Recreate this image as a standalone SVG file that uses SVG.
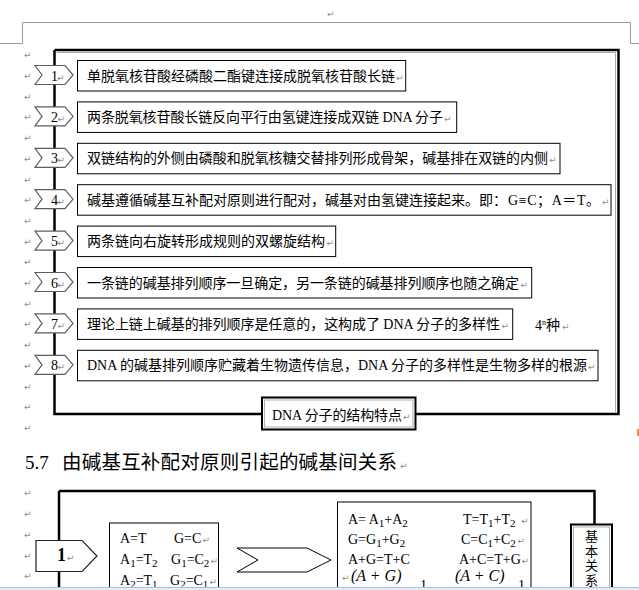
<svg xmlns="http://www.w3.org/2000/svg" width="639" height="590" viewBox="0 0 639 590">
<style>
.cn{font-family:"Liberation Serif","Noto Sans CJK SC",serif;font-size:14px;fill:#000}
.pm{font-family:"DejaVu Sans",sans-serif;font-size:9px;fill:#8e8e8e}
.box{fill:#fff;stroke:#000;stroke-width:1}
.tag{fill:#fff;stroke:#5e5e5e;stroke-width:1.2}
.fr{fill:none;stroke:#000;stroke-width:2.5}
.frg{fill:none;stroke:#a8a8a8;stroke-width:1}
.thin{fill:none;stroke:#9a9a9a;stroke-width:1}
.f{font-family:"Liberation Serif",serif;font-size:14px;fill:#000}
.m{font-family:"Liberation Serif",serif;font-size:16px;font-style:italic;fill:#000}
</style>
<rect width="639" height="590" fill="#fff"/>

<g id="page-marks">
<path class="thin" d="M0,43.5 H22.5 V22.5 H630.5 V43.5 H639"/>
<text class="pm" x="327" y="17">↵</text>
<rect x="637" y="429" width="2" height="7" fill="#f08a4b"/>
</g>

<g id="margin-marks" class="pm">
<text x="24" y="58.3">↵</text><text x="24" y="79">↵</text><text x="24" y="99.7">↵</text><text x="24" y="120.4">↵</text>
<text x="24" y="141.1">↵</text><text x="24" y="161.8">↵</text><text x="24" y="182.5">↵</text><text x="24" y="203.2">↵</text>
<text x="24" y="223.9">↵</text><text x="24" y="244.6">↵</text><text x="24" y="265.3">↵</text><text x="24" y="286">↵</text>
<text x="24" y="306.7">↵</text><text x="24" y="327.4">↵</text><text x="24" y="348.1">↵</text><text x="24" y="368.8">↵</text>
<text x="24" y="389.5">↵</text><text x="24" y="410.2">↵</text><text x="24" y="430.9">↵</text>
<text x="24" y="496">↵</text><text x="24" y="516.5">↵</text><text x="24" y="537.5">↵</text><text x="24" y="558.5">↵</text><text x="24" y="579">↵</text>
</g>

<g id="connectors">
<path class="frg" d="M57,52.5 H615.5 V412"/>
<path class="fr" d="M54.5,50 H618.5 V414 H416 M262,414 H54.5 V50"/>
<path class="fr" d="M59,491 H594.5 V525 M59,491 V590"/>
</g>

<g id="tag-1"><polygon class="tag" points="35,65.5 65,65.5 73,75 65,84.5 35,84.5 42,75"/><text class="f" x="51" y="80.5">1</text><text class="pm" x="57" y="80.5">↵</text></g>
<g id="tag-2"><polygon class="tag" points="35,106.9 65,106.9 73,116.4 65,125.9 35,125.9 42,116.4"/><text class="f" x="51" y="121.9">2</text><text class="pm" x="57.5" y="121.9">↵</text></g>
<g id="tag-3"><polygon class="tag" points="35,148.3 65,148.3 73,157.8 65,167.3 35,167.3 42,157.8"/><text class="f" x="51" y="163.3">3</text><text class="pm" x="57.5" y="163.3">↵</text></g>
<g id="tag-4"><polygon class="tag" points="35,189.7 65,189.7 73,199.2 65,208.7 35,208.7 42,199.2"/><text class="f" x="51" y="204.7">4</text><text class="pm" x="57.5" y="204.7">↵</text></g>
<g id="tag-5"><polygon class="tag" points="35,231.1 65,231.1 73,240.6 65,250.1 35,250.1 42,240.6"/><text class="f" x="51" y="246.1">5</text><text class="pm" x="57.5" y="246.1">↵</text></g>
<g id="tag-6"><polygon class="tag" points="35,272.5 65,272.5 73,282 65,291.5 35,291.5 42,282"/><text class="f" x="51" y="287.5">6</text><text class="pm" x="57.5" y="287.5">↵</text></g>
<g id="tag-7"><polygon class="tag" points="35,313.9 65,313.9 73,323.4 65,332.9 35,332.9 42,323.4"/><text class="f" x="51" y="328.9">7</text><text class="pm" x="57.5" y="328.9">↵</text></g>
<g id="tag-8"><polygon class="tag" points="35,355.3 65,355.3 73,364.8 65,374.3 35,374.3 42,364.8"/><text class="f" x="51" y="370.3">8</text><text class="pm" x="57.5" y="370.3">↵</text></g>

<g id="box-1"><rect class="box" x="77.5" y="60.5" width="328.2" height="30.5"/><text class="cn" x="87" y="80.5" textLength="308">单脱氧核苷酸经磷酸二酯键连接成脱氧核苷酸长链</text><text class="pm" x="396" y="80.5">↵</text></g>
<g id="box-2"><rect class="box" x="77.5" y="101.9" width="379.2" height="30.5"/><text class="cn" x="87" y="121.9" textLength="356">两条脱氧核苷酸长链反向平行由氢键连接成双链 DNA 分子</text><text class="pm" x="444" y="121.9">↵</text></g>
<g id="box-3"><rect class="box" x="77.5" y="143.3" width="482.5" height="30.5"/><text class="cn" x="87" y="163.3" textLength="461">双链结构的外侧由磷酸和脱氧核糖交替排列形成骨架，碱基排在双链的内侧</text><text class="pm" x="549" y="163.3">↵</text></g>
<g id="box-4"><rect class="box" x="77.5" y="184.7" width="533.5" height="30.5"/><text class="cn" x="87" y="204.7" textLength="420">碱基遵循碱基互补配对原则进行配对，碱基对由氢键连接起来。即：</text><text class="cn" x="508" y="204.7" textLength="92">G≡C；A＝T。</text><text class="pm" x="602" y="204.7">↵</text></g>
<g id="box-5"><rect class="box" x="77.5" y="226.1" width="258.2" height="30.5"/><text class="cn" x="87" y="246.1" textLength="238">两条链向右旋转形成规则的双螺旋结构</text><text class="pm" x="326.5" y="246.1">↵</text></g>
<g id="box-6"><rect class="box" x="77.5" y="267.5" width="454.2" height="30.5"/><text class="cn" x="87" y="287.5" textLength="432">一条链的碱基排列顺序一旦确定，另一条链的碱基排列顺序也随之确定</text><text class="pm" x="520.5" y="287.5">↵</text></g>
<g id="box-7"><rect class="box" x="77.5" y="308.9" width="435.2" height="30.5"/><text class="cn" x="87" y="328.9" textLength="413">理论上链上碱基的排列顺序是任意的，这构成了 DNA 分子的多样性</text><text class="pm" x="501.5" y="328.9">↵</text></g>
<g id="box-8"><rect class="box" x="77.5" y="350.3" width="520.5" height="30.5"/><text class="cn" x="87" y="370.3" textLength="500">DNA 的碱基排列顺序贮藏着生物遗传信息，DNA 分子的多样性是生物多样的根源</text><text class="pm" x="588" y="370.3">↵</text></g>

<g id="note-4n"><text class="cn" x="535" y="330" font-size="13">4<tspan font-size="8" dy="-5">n</tspan><tspan dy="5">种</tspan></text><text class="pm" x="562" y="330">↵</text></g>

<g id="label-dna">
<rect x="262" y="397.5" width="153.5" height="32" fill="#fff" stroke="#000" stroke-width="2"/>
<rect x="264.5" y="400" width="148.5" height="27" fill="none" stroke="#b0b0b0" stroke-width="1"/>
<text class="cn" x="272" y="420" textLength="130">DNA 分子的结构特点</text><text class="pm" x="403" y="420">↵</text>
</g>

<g id="heading">
<text x="25" y="469" font-family="Liberation Serif, serif" font-size="19">5.7</text>
<text x="62" y="469" font-family="Liberation Serif, Noto Sans CJK SC, serif" font-size="19.5" textLength="335">由碱基互补配对原则引起的碱基间关系</text>
<text class="pm" x="400" y="469">↵</text>
</g>

<g id="tag-b1">
<polygon points="36,540.5 82,540.5 97,556 82,571.5 36,571.5" fill="#fff" stroke="#222" stroke-width="1.2"/>
<text x="57" y="561" font-family="Liberation Serif, serif" font-size="18" font-weight="bold">1</text>
<text class="pm" x="67" y="561">↵</text>
</g>

<g id="box-pairs">
<rect class="box" x="109.5" y="523" width="109" height="80"/>
<text class="f" x="120" y="543">A=T</text><text class="f" x="174" y="543">G=C</text><text class="pm" x="202.5" y="543">↵</text>
<text class="f" x="120" y="564">A<tspan font-size="11" dy="3">1</tspan><tspan dy="-3">=T</tspan><tspan font-size="11" dy="3">2</tspan></text>
<text class="f" x="171" y="564">G<tspan font-size="11" dy="3">1</tspan><tspan dy="-3">=C</tspan><tspan font-size="11" dy="3">2</tspan></text><text class="pm" x="210.5" y="564">↵</text>
<text class="f" x="120" y="585">A<tspan font-size="11" dy="3">2</tspan><tspan dy="-3">=T</tspan><tspan font-size="11" dy="3">1</tspan></text>
<text class="f" x="170" y="585">G<tspan font-size="11" dy="3">2</tspan><tspan dy="-3">=C</tspan><tspan font-size="11" dy="3">1</tspan></text><text class="pm" x="209.5" y="585">↵</text>
</g>

<g id="arrow-b">
<polygon points="237,548 307,548 331,560 307,572 237,572 258,560" fill="#fff" stroke="#000" stroke-width="1"/>
</g>

<g id="box-relations">
<rect class="box" x="337.5" y="502" width="193.5" height="100"/>
<text class="f" x="348" y="524">A= A<tspan font-size="11" dy="3">1</tspan><tspan dy="-3">+A</tspan><tspan font-size="11" dy="3">2</tspan></text>
<text class="f" x="463" y="524">T=T<tspan font-size="11" dy="3">1</tspan><tspan dy="-3">+T</tspan><tspan font-size="11" dy="3">2</tspan></text><text class="pm" x="521" y="524">↵</text>
<text class="f" x="348" y="544">G=G<tspan font-size="11" dy="3">1</tspan><tspan dy="-3">+G</tspan><tspan font-size="11" dy="3">2</tspan></text>
<text class="f" x="461" y="544">C=C<tspan font-size="11" dy="3">1</tspan><tspan dy="-3">+C</tspan><tspan font-size="11" dy="3">2</tspan></text><text class="pm" x="517.5" y="544">↵</text>
<text class="f" x="348" y="564">A+G=T+C</text>
<text class="f" x="459" y="564">A+C=T+G</text><text class="pm" x="521.5" y="564">↵</text>
<text class="pm" x="342" y="581">↵</text>
<text class="m" x="351" y="581">(A + G)</text>
<text class="f" x="420" y="590" font-size="9">1</text>
<text class="m" x="455" y="581">(A + C)</text>
<text class="f" x="518" y="590" font-size="9">1</text>
</g>

<g id="box-basic">
<rect x="571" y="524.5" width="41" height="80" fill="#fff" stroke="#000" stroke-width="2"/>
<rect x="573.5" y="527" width="36" height="80" fill="none" stroke="#b0b0b0" stroke-width="1"/>
<text x="591.5" y="530" font-family="Noto Sans CJK SC, sans-serif" font-size="13" writing-mode="tb" letter-spacing="1.5">基本关系</text>
</g>

<g id="status-bar">
<rect x="0" y="587" width="639" height="3" fill="#e4ecf8"/>
<line x1="0" y1="587.5" x2="639" y2="587.5" stroke="#a9c0e0" stroke-width="1"/>
</g>
</svg>
